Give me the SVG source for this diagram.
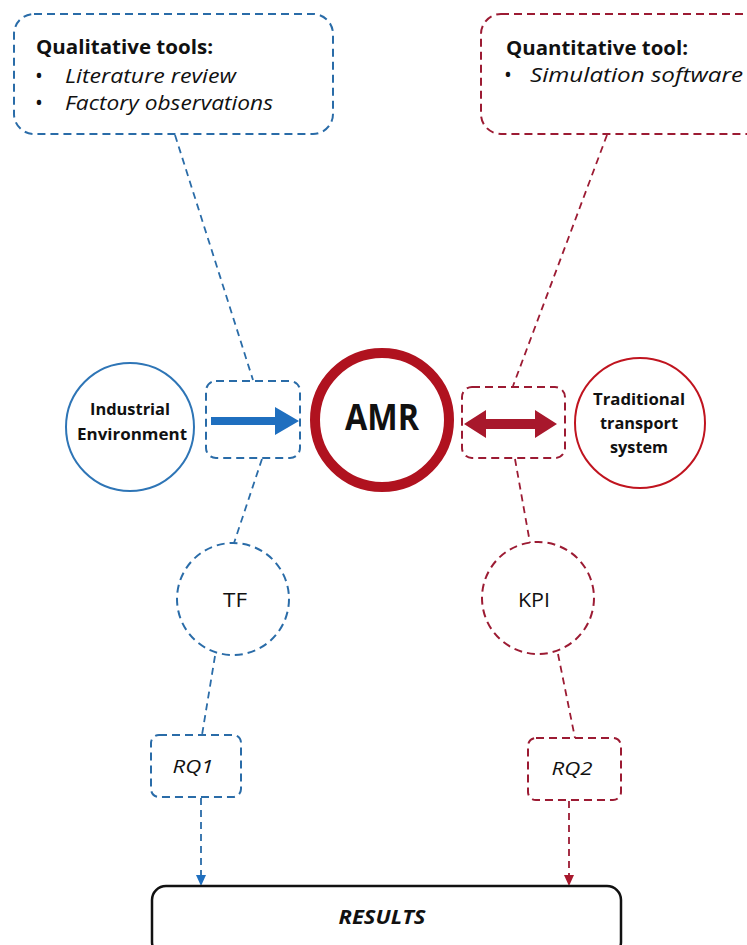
<svg xmlns="http://www.w3.org/2000/svg" width="747" height="945" viewBox="0 0 747 945">
  <defs>
    <style>
      text { font-family: "Open Sans", "Liberation Sans", sans-serif; fill: #111; }
      .blue-dash { fill: none; stroke: #2a6ca8; stroke-width: 2; stroke-dasharray: 8 5; }
      .red-dash { fill: none; stroke: #9c1b33; stroke-width: 2; stroke-dasharray: 8 5; }
      .blue-link { fill: none; stroke: #2a6ca8; stroke-width: 1.8; stroke-dasharray: 7 5; }
      .red-link { fill: none; stroke: #9c1b33; stroke-width: 1.8; stroke-dasharray: 7 5; }
      .title { font-weight: 700; font-size: 19px; }
      .item { font-style: italic; font-size: 20px; }
      .bullet { font-size: 21px; }
      .node-label { font-weight: 700; font-size: 16px; text-anchor: middle; }
      .plain { font-size: 20px; text-anchor: middle; }
      .rq { font-style: italic; font-size: 19px; text-anchor: middle; }
    </style>
  </defs>

  <rect width="747" height="945" fill="#ffffff"/>

  <!-- connectors -->
  <g id="connectors">
    <line class="blue-link" x1="175" y1="135" x2="253" y2="380"/>
    <line class="blue-link" x1="262" y1="459" x2="234" y2="543"/>
    <line class="blue-link" x1="215" y1="656" x2="202" y2="735"/>
    <line class="blue-link" x1="201" y1="798" x2="201" y2="876"/>
    <path d="M196,875 L206,875 L201,886 z" fill="#1f6fbf"/>

    <line class="red-link" x1="607" y1="135" x2="513" y2="386"/>
    <line class="red-link" x1="515" y1="459" x2="530" y2="543"/>
    <line class="red-link" x1="558" y1="654" x2="575" y2="738"/>
    <line class="red-link" x1="569" y1="801" x2="569" y2="876"/>
    <path d="M564,875 L574,875 L569,886 z" fill="#a8182c"/>
  </g>

  <!-- qualitative tools box -->
  <g id="qualitative">
    <rect class="blue-dash" x="14" y="14" width="319" height="120" rx="20"/>
    <text class="title" x="36" y="54" textLength="177" lengthAdjust="spacingAndGlyphs">Qualitative tools:</text>
    <text class="bullet" x="35" y="83">•</text>
    <text class="item" x="65" y="83" textLength="171" lengthAdjust="spacingAndGlyphs">Literature review</text>
    <text class="bullet" x="35" y="110">•</text>
    <text class="item" x="65" y="110" textLength="208" lengthAdjust="spacingAndGlyphs">Factory observations</text>
  </g>

  <!-- quantitative tool box -->
  <g id="quantitative">
    <rect class="red-dash" x="481" y="14" width="290" height="120" rx="20"/>
    <text class="title" x="506" y="55" textLength="182" lengthAdjust="spacingAndGlyphs">Quantitative tool:</text>
    <text class="bullet" x="504" y="82">•</text>
    <text class="item" x="530" y="82" textLength="213" lengthAdjust="spacingAndGlyphs">Simulation software</text>
  </g>

  <!-- industrial environment -->
  <g id="industrial">
    <circle cx="130" cy="427" r="64" fill="#fff" stroke="#2e75b6" stroke-width="2"/>
    <text class="node-label" x="130" y="415" textLength="80" lengthAdjust="spacingAndGlyphs">Industrial</text>
    <text class="node-label" x="132" y="440" textLength="110" lengthAdjust="spacingAndGlyphs">Environment</text>
  </g>

  <!-- one-way transfer box -->
  <g id="transfer">
    <rect class="blue-dash" x="206" y="381" width="94" height="77" rx="10"/>
    <path d="M211,417 L275,417 L275,407 L299,421 L275,435 L275,425 L211,425 z" fill="#1f6fbf"/>
  </g>

  <!-- AMR -->
  <g id="amr">
    <circle cx="382" cy="420" r="67" fill="#fff" stroke="#b0121f" stroke-width="10"/>
    <text x="382" y="430" font-weight="700" font-size="35" text-anchor="middle" textLength="74" lengthAdjust="spacingAndGlyphs">AMR</text>
  </g>

  <!-- comparison box -->
  <g id="comparison">
    <rect class="red-dash" x="462" y="387" width="103" height="71" rx="10"/>
    <path d="M464,424 L486,410 L486,419 L535,419 L535,410 L557,424 L535,438 L535,429 L486,429 L486,438 z" fill="#a8182c"/>
  </g>

  <!-- traditional transport system -->
  <g id="traditional">
    <circle cx="640" cy="423" r="65" fill="#fff" stroke="#c0141f" stroke-width="2"/>
    <text class="node-label" x="639" y="405" textLength="92" lengthAdjust="spacingAndGlyphs">Traditional</text>
    <text class="node-label" x="639" y="429" textLength="78" lengthAdjust="spacingAndGlyphs">transport</text>
    <text class="node-label" x="639" y="453" textLength="58" lengthAdjust="spacingAndGlyphs">system</text>
  </g>

  <!-- TF -->
  <g id="tf">
    <circle class="blue-dash" cx="233" cy="599" r="56"/>
    <text class="plain" x="235" y="607" textLength="24" lengthAdjust="spacingAndGlyphs">TF</text>
  </g>

  <!-- KPI -->
  <g id="kpi">
    <circle class="red-dash" cx="538" cy="598" r="56"/>
    <text class="plain" x="534" y="607" textLength="32" lengthAdjust="spacingAndGlyphs">KPI</text>
  </g>

  <!-- RQ1 -->
  <g id="rq1">
    <rect class="blue-dash" x="151" y="735" width="90" height="62" rx="8"/>
    <text class="rq" x="193" y="773" textLength="41" lengthAdjust="spacingAndGlyphs">RQ1</text>
  </g>

  <!-- RQ2 -->
  <g id="rq2">
    <rect class="red-dash" x="528" y="738" width="93" height="62" rx="8"/>
    <text class="rq" x="572" y="775" textLength="41" lengthAdjust="spacingAndGlyphs">RQ2</text>
  </g>

  <!-- results -->
  <g id="results">
    <rect x="152" y="886" width="469" height="70" rx="14" fill="#fff" stroke="#111" stroke-width="2.5"/>
    <text x="382" y="924" font-weight="700" font-style="italic" font-size="20" text-anchor="middle" textLength="87" lengthAdjust="spacingAndGlyphs">RESULTS</text>
  </g>
</svg>
